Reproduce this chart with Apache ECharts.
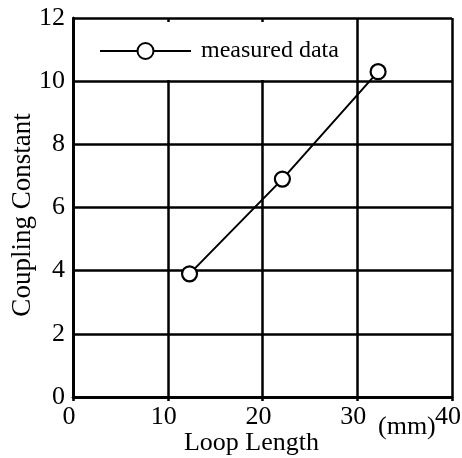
<!DOCTYPE html>
<html>
<head>
<meta charset="utf-8">
<style>
html,body{margin:0;padding:0;background:#fff;}
#chart{width:462px;height:458px;}
</style>
<script src="https://cdn.jsdelivr.net/npm/echarts@6/dist/echarts.min.js"></script>
</head>
<body>
<div id="chart"></div>
<script>
var loopLength = [12.3, 22.1, 32.2];
var couplingConstant = [3.9, 6.9, 10.3];
var seriesName = 'measured data';
var xTitle = 'Loop Length';
var yTitle = 'Coupling Constant';
var xUnit = '(mm)';

var points = loopLength.map(function (x, i) { return [x, couplingConstant[i]]; });
var FONT = 'Liberation Serif';
var chart = echarts.init(document.getElementById('chart'), null, {renderer: 'canvas'});
chart.setOption({
  animation: false,
  backgroundColor: '#fff',
  grid: {left: 73, right: 10, top: 18, bottom: 61, show: false, containLabel: false, outerBoundsMode: 'none'},
  legend: {
    show: true,
    z: 50,
    left: 75, top: 22,
    orient: 'horizontal',
    backgroundColor: '#fff',
    padding: [17, 14, 17, 24],
    itemWidth: 91, itemHeight: 20,
    textStyle: {fontFamily: FONT, fontSize: 24, color: '#000', padding: [0, 0, 0, 5]},
    data: [seriesName]
  },
  xAxis: [{
    type: 'value', min: 0, max: 40, interval: 10, position: 'bottom',
    name: xTitle, nameLocation: 'middle', nameGap: 33, nameMoveOverlap: false,
    nameTextStyle: {fontFamily: FONT, fontSize: 26, color: '#000', padding: [0, 22, 0, 0]},
    axisLine: {show: true, lineStyle: {color: '#000', width: 2.5}},
    axisTick: {show: false},
    axisLabel: {fontFamily: FONT, fontSize: 26, color: '#000', margin: 7, padding: [0, 8, 0, 0], hideOverlap: false},
    splitLine: {show: true, lineStyle: {color: '#000', width: 2.5}}
  }, {
    type: 'value', min: 0, max: 40, interval: 10, position: 'top',
    axisLine: {show: true, lineStyle: {color: '#000', width: 2.5}},
    axisTick: {show: true, inside: true, length: 4, lineStyle: {color: '#000', width: 2.5}},
    axisLabel: {show: false},
    splitLine: {show: false}
  }],
  yAxis: [{
    type: 'value', min: 0, max: 12, interval: 2, position: 'left',
    name: yTitle, nameLocation: 'middle', nameGap: 37, nameRotate: 90, nameMoveOverlap: false,
    nameTextStyle: {fontFamily: FONT, fontSize: 27, color: '#000', padding: [0, 15, 0, 0]},
    axisLine: {show: true, lineStyle: {color: '#000', width: 2.5}},
    axisTick: {show: false},
    axisLabel: {fontFamily: FONT, fontSize: 26, color: '#000', margin: 8},
    splitLine: {show: true, lineStyle: {color: '#000', width: 2.5}}
  }, {
    type: 'value', min: 0, max: 12, interval: 2, position: 'right',
    axisLine: {show: true, lineStyle: {color: '#000', width: 2.5}},
    axisTick: {show: false},
    axisLabel: {show: false},
    splitLine: {show: false}
  }],
  graphic: [{
    type: 'text', left: 378, top: 414,
    style: {text: xUnit, font: '26px "Liberation Serif"', fill: '#000'}
  }],
  series: [{
    name: seriesName,
    type: 'line',
    data: points,
    symbol: 'circle',
    symbolSize: 15,
    showAllSymbol: true,
    lineStyle: {color: '#000', width: 2},
    itemStyle: {color: '#fff', borderColor: '#000', borderWidth: 2.2},
    z: 10
  }]
});
</script>
</body>
</html>
